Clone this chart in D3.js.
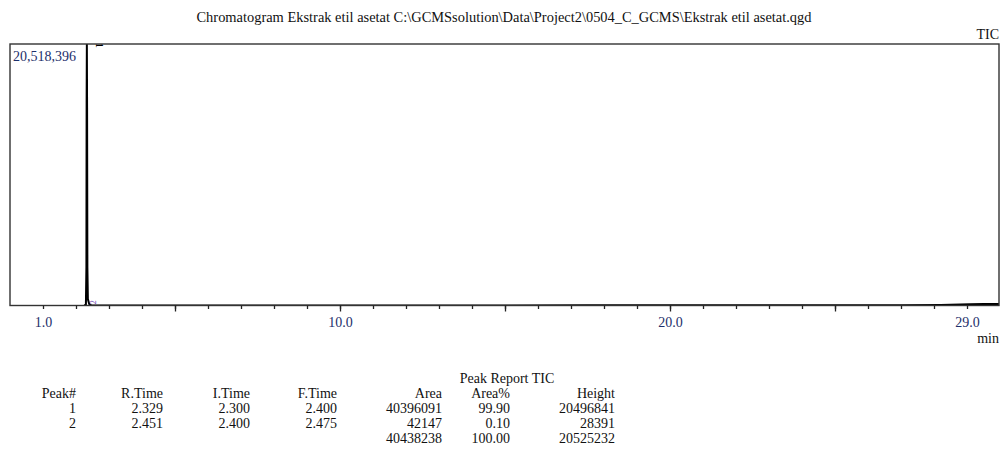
<!DOCTYPE html>
<html>
<head>
<meta charset="utf-8">
<script src="https://cdn.jsdelivr.net/npm/d3@7"></script>
<style>
  html, body { margin: 0; padding: 0; background: #fff; }
  svg { display: block; }
  text { font-family: "Liberation Serif", "Times New Roman", serif; }
</style>
</head>
<body>
<svg id="chart" width="1001" height="450"></svg>
<script>
// ---------- data ----------
const titleText = "Chromatogram Ekstrak etil asetat C:\\GCMSsolution\\Data\\Project2\\0504_C_GCMS\\Ekstrak etil asetat.qgd";
const yMaxLabel = 20518396;
const xDomain = [0.0, 30.0];
const xLabelTicks = [1.0, 10.0, 20.0, 29.0];
const xMinorTicks = d3.range(1, 30);
const xMajorTicks = [5, 10, 15, 20, 25];

// TIC trace (min, intensity)
const times = [2.25, 2.30, 2.315, 2.322, 2.329, 2.336, 2.345, 2.36, 2.40, 2.43, 2.451, 2.475, 3.0, 8.0, 15.0, 17.5, 18.0, 19.0, 20.0, 21.0, 25.0, 27.0, 28.2, 28.5, 28.8, 29.1, 29.5, 30.0];
const intensity = [0, 60000, 3000000, 16000000, 20496841, 15500000, 3000000, 500000, 120000, 45000, 28391, 20000, 5000, 6000, 8000, 10000, 12000, 12000, 13000, 12000, 12000, 15000, 40000, 60000, 70000, 90000, 110000, 120000];

// peak labels
const peakIds = ["1", "2"];
const peakRT = [2.329, 2.451];
const peakHeight = [20496841, 28391];

// peak report table
const tableTitle = "Peak Report TIC";
const colHeaders = ["Peak#", "R.Time", "I.Time", "F.Time", "Area", "Area%", "Height"];
const colPeak = ["1", "2", ""];
const colRTime = ["2.329", "2.451", ""];
const colITime = ["2.300", "2.400", ""];
const colFTime = ["2.400", "2.475", ""];
const colArea = ["40396091", "42147", "40438238"];
const colAreaPct = ["99.90", "0.10", "100.00"];
const colHeight = ["20496841", "28391", "20525232"];

// ---------- drawing ----------
const svg = d3.select("#chart");
const box = { left: 10, right: 999, top: 44, bottom: 305.5 };
const x = d3.scaleLinear().domain(xDomain).range([box.left, box.right + 1]);
const y = d3.scaleLinear().domain([0, yMaxLabel]).range([box.bottom, box.top]);
const navy = "#1d2f6b";

// title
svg.append("text")
  .attr("x", 504).attr("y", 22)
  .attr("text-anchor", "middle")
  .attr("font-size", 14)
  .attr("textLength", 615).attr("lengthAdjust", "spacingAndGlyphs")
  .attr("fill", "#111")
  .text(titleText);

svg.append("text")
  .attr("x", 999).attr("y", 39)
  .attr("text-anchor", "end")
  .attr("font-size", 14)
  .attr("fill", "#111")
  .text("TIC");

// clip for trace
svg.append("clipPath").attr("id", "plotclip")
  .append("rect")
  .attr("x", box.left).attr("y", box.top)
  .attr("width", box.right - box.left).attr("height", box.bottom - box.top);

// trace
const series = times.map((t, i) => ({ t, v: intensity[i] }));
svg.append("path")
  .datum(series)
  .attr("clip-path", "url(#plotclip)")
  .attr("fill", "none")
  .attr("stroke", "#000")
  .attr("stroke-width", 2)
  .attr("stroke-linejoin", "round")
  .attr("d", d3.line().x(d => x(d.t)).y(d => y(d.v)));

// peak labels
svg.append("g")
  .attr("clip-path", "url(#plotclip)")
  .append("text")
  .attr("transform", `translate(${x(peakRT[0]) + 9},${y(peakHeight[0]) - 1.5}) rotate(90)`)
  .attr("font-size", 10)
  .attr("font-weight", "bold")
  .attr("fill", "#000")
  .text(peakIds[0]);
svg.append("text")
  .attr("transform", `translate(${x(peakRT[1]) + 5},${y(peakHeight[1]) - 1}) rotate(-90)`)
  .attr("font-size", 8)
  .attr("fill", "#6a3fb0")
  .text(peakIds[1]);

// frame
svg.append("rect")
  .attr("x", box.left).attr("y", box.top)
  .attr("width", box.right - box.left).attr("height", box.bottom - box.top)
  .attr("fill", "none")
  .attr("stroke", "#333")
  .attr("stroke-width", 1.4);

// y max label
svg.append("text")
  .attr("x", 13).attr("y", 61)
  .attr("font-size", 14)
  .attr("fill", navy)
  .text(d3.format(",")(yMaxLabel));

// x axis ticks
const minorAxis = d3.axisBottom(x).tickValues(xMinorTicks).tickSize(3.5).tickFormat("");
const majorAxis = d3.axisBottom(x).tickValues(xMajorTicks).tickSize(6).tickFormat("");
[minorAxis, majorAxis].forEach(ax => {
  const g = svg.append("g").attr("transform", `translate(0,${box.bottom})`).call(ax);
  g.select(".domain").remove();
  g.selectAll(".tick line").attr("stroke", "#222").attr("stroke-width", 1.3);
});
const labelAxis = d3.axisBottom(x).tickValues(xLabelTicks).tickSize(0).tickPadding(12).tickFormat(d3.format(".1f"));
const lg = svg.append("g").attr("transform", `translate(0,${box.bottom})`).call(labelAxis);
lg.select(".domain").remove();
lg.selectAll(".tick text")
  .attr("font-family", "'Liberation Serif', serif")
  .attr("font-size", 14)
  .attr("fill", navy);

svg.append("text")
  .attr("x", 999).attr("y", 343)
  .attr("text-anchor", "end")
  .attr("font-size", 14)
  .attr("fill", "#111")
  .text("min");

// ---------- peak report table ----------
svg.append("text")
  .attr("x", 507).attr("y", 383)
  .attr("text-anchor", "middle")
  .attr("font-size", 14)
  .attr("fill", "#111")
  .text(tableTitle);

const colRight = [76, 163, 250, 337, 442, 510, 615];
const cols = [colPeak, colRTime, colITime, colFTime, colArea, colAreaPct, colHeight];
const rowY0 = 398, rowStep = 15;

const tbl = svg.append("g").attr("font-size", 14).attr("fill", "#111").attr("text-anchor", "end");
colHeaders.forEach((h, c) => {
  tbl.append("text").attr("x", colRight[c]).attr("y", rowY0).text(h);
  cols[c].forEach((v, r) => {
    if (v) tbl.append("text").attr("x", colRight[c]).attr("y", rowY0 + rowStep * (r + 1)).text(v);
  });
});
</script>
</body>
</html>
